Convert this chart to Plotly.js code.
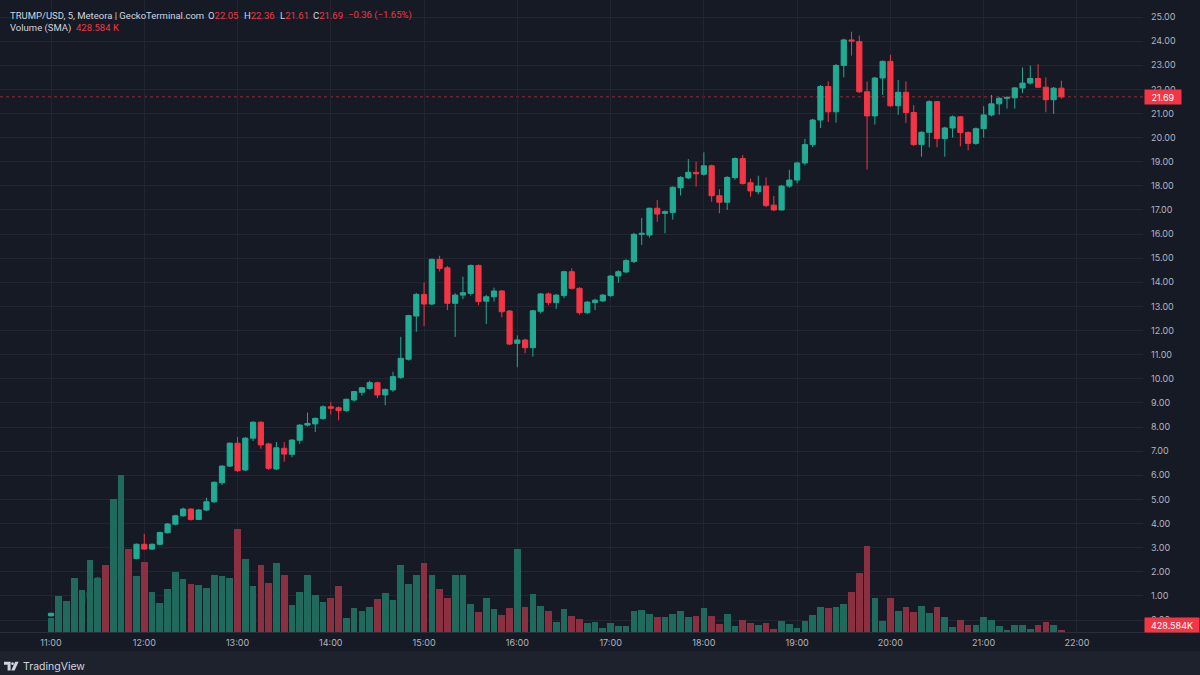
<!DOCTYPE html>
<html><head><meta charset="utf-8">
<script src="https://cdn.plot.ly/plotly-3.0.1.min.js"></script>
<style>html,body{margin:0;padding:0;background:#161a25;}#chart{width:1200px;height:675px;}</style>
</head><body><div id="chart"></div>
<script>
// ---- data (TRUMP/USD, 5-minute candles from 11:00) ----
const startHour = 11;
const stepMinutes = 5;
const openP = [0.17,0.28,0.40,0.54,0.69,0.91,1.17,1.70,0.92,1.66,
 2.69,2.55,3.14,2.94,3.14,3.62,3.97,4.32,4.60,4.17,
 4.56,4.90,5.69,6.38,7.33,6.22,7.54,8.20,7.30,6.26,
 7.12,6.87,7.45,8.08,8.13,8.35,8.84,8.80,8.68,9.12,
 9.44,9.60,9.84,9.33,9.54,10.06,10.81,12.60,13.50,13.10,
 14.95,14.60,13.13,13.47,13.54,14.70,13.22,13.40,13.64,12.81,
 11.47,11.61,11.29,12.80,13.52,13.16,13.45,14.44,13.75,12.74,
 13.16,13.23,13.45,14.26,14.43,14.86,15.99,15.96,17.07,16.86,
 16.90,17.92,18.33,18.56,18.48,18.83,17.59,17.32,18.34,19.13,
 18.13,17.76,17.99,17.20,17.00,17.99,18.24,18.95,19.71,20.73,
 22.12,21.07,22.99,24.05,23.98,21.90,20.90,22.47,23.16,21.32,
 21.88,21.04,19.71,20.22,21.49,19.96,20.40,20.86,20.21,19.76,
 20.37,20.94,21.40,21.63,21.65,22.06,22.26,22.45,22.09,21.57,
 22.05];
const highP = [0.30,0.43,0.57,0.71,0.94,1.19,1.76,1.74,1.72,2.74,
 2.74,3.17,3.57,3.17,3.66,4.02,4.36,4.66,4.63,4.60,
 5.07,5.74,6.42,7.36,7.59,7.58,8.24,8.24,7.35,7.38,
 7.38,7.50,8.12,8.60,8.40,8.90,9.03,8.86,9.18,9.50,
 9.66,9.92,9.88,9.60,10.29,11.74,12.65,13.56,13.99,14.99,
 15.10,14.68,13.55,14.23,14.74,14.74,13.48,13.78,13.68,12.85,
 11.80,11.66,12.86,13.56,13.58,13.52,14.48,14.58,13.80,13.22,
 13.32,13.52,14.30,14.50,14.96,16.05,16.67,17.10,17.41,16.98,
 17.98,18.40,19.11,19.00,19.39,18.88,17.86,18.40,19.18,19.28,
 18.30,18.42,18.35,17.58,18.04,18.66,19.00,19.95,20.78,22.18,
 22.33,23.05,24.10,24.39,24.23,22.33,22.52,23.20,23.43,22.39,
 22.33,21.35,20.26,21.55,21.52,20.45,20.92,20.90,20.26,20.42,
 21.30,21.77,21.68,21.72,22.10,22.91,22.99,23.04,22.50,22.10,
 22.36];
const lowP = [0.15,0.27,0.38,0.52,0.67,0.89,1.15,0.92,0.90,1.63,
 2.48,2.52,2.92,2.90,3.10,3.59,3.92,4.28,4.12,4.14,
 4.52,4.86,5.60,6.34,6.14,6.18,7.42,7.10,6.22,6.22,
 6.56,6.75,7.30,8.02,7.79,8.30,8.52,8.28,8.63,9.05,
 9.30,9.55,9.20,8.90,9.46,10.00,10.76,11.95,12.19,13.05,
 14.45,12.85,11.74,13.30,13.45,13.05,12.27,13.20,12.55,11.40,
 10.48,11.06,10.92,12.70,13.05,12.90,13.35,13.70,12.66,12.68,
 12.85,13.18,13.40,13.98,14.38,14.80,15.55,15.85,16.51,16.03,
 16.60,17.60,18.28,17.97,18.42,17.34,16.86,17.00,18.25,18.05,
 17.55,17.65,17.12,16.95,16.98,17.92,18.10,18.85,19.60,20.40,
 20.65,20.62,22.50,23.40,21.85,18.68,20.54,21.77,21.28,20.95,
 20.61,19.65,19.21,19.60,19.60,19.21,20.00,19.64,19.47,19.70,
 20.00,20.88,20.95,21.20,21.20,21.85,22.20,22.05,21.05,20.98,
 21.61];
const closeP = [0.28,0.41,0.55,0.69,0.92,1.17,1.73,0.94,1.69,2.70,
 2.53,3.14,2.94,3.14,3.63,3.98,4.32,4.60,4.17,4.56,
 4.90,5.71,6.38,7.33,6.19,7.54,8.20,7.26,6.29,7.14,
 6.88,7.46,8.08,8.15,8.36,8.84,8.78,8.68,9.15,9.47,
 9.63,9.84,9.33,9.56,10.09,10.85,12.62,13.50,13.10,14.95,
 14.58,13.13,13.47,13.57,14.70,13.20,13.40,13.64,12.78,11.44,
 11.61,11.29,12.82,13.52,13.16,13.47,14.44,13.75,12.74,13.18,
 13.26,13.47,14.26,14.44,14.90,15.99,16.03,17.07,16.83,16.93,
 17.94,18.35,18.56,18.50,18.83,17.59,17.32,18.35,19.13,18.10,
 17.79,17.99,17.18,17.00,17.99,18.24,18.95,19.71,20.73,22.12,
 21.07,22.99,24.05,24.00,21.90,20.90,22.47,23.16,21.32,21.88,
 21.04,19.71,20.22,21.49,19.96,20.40,20.86,20.21,19.76,20.37,
 20.94,21.40,21.63,21.66,22.06,22.26,22.45,22.09,21.57,22.05,
 21.69];
// volume in millions
const volumeM = [2.94,7.71,6.64,11.57,9.09,15.43,11.57,14.36,28.59,33.58,
 17.87,11.94,14.94,8.66,6.21,9.15,12.86,11.44,10.29,10.01,
 9.36,12.30,11.94,11.51,22.16,15.73,9.86,14.36,10.59,14.87,
 12.30,5.79,8.51,12.32,7.86,6.51,7.39,9.94,2.94,5.08,
 4.50,5.29,7.01,8.44,6.86,14.36,10.29,12.22,14.87,12.22,
 9.15,7.37,12.22,12.22,6.00,4.37,7.37,4.93,3.64,5.23,
 17.79,5.44,8.08,5.66,4.59,2.23,4.86,3.43,2.72,1.97,
 2.08,0.94,1.86,1.22,1.22,4.59,4.65,3.79,3.15,3.15,
 3.94,4.50,3.21,3.43,5.14,3.36,1.71,3.86,1.22,2.66,
 2.01,1.44,2.01,0.64,2.36,1.71,0.86,2.36,3.64,5.36,
 5.14,5.36,6.00,8.68,12.75,18.47,7.20,2.36,7.20,4.50,
 5.36,4.29,5.51,4.07,5.36,3.21,1.07,2.64,1.50,1.50,
 3.21,2.64,1.18,0.43,1.50,1.50,0.71,1.41,2.14,1.41,
 0.428584];
const legendTitle = "TRUMP/USD, 5, Meteora | GeckoTerminal.com";
const legendOHLC = [["O","22.05"],["H","22.36"],["L","21.61"],["C","21.69"]];
const legendChange = "\u22120.36 (\u22121.65%)";
const volumeLabel = "Volume (SMA)";
const volumeValueText = "428.584 K";
const priceTagText = "21.69";
const volumeTagText = "428.584K";

// ---- styling constants ----
const BG = '#161a25', GRID = '#222632', TXT = '#b2b5be', LEG = '#d1d4dc';
const UP = '#22ab94', DOWN = '#f23645';
const UPV = '#1f6a5d', DOWNV = '#8a3040';
const PW = 1143, PH = 632; // plot area in px
const FONT = 'Inter, Roboto, "DejaVu Sans", sans-serif';
const LFONT = 'Roboto, "Liberation Sans", sans-serif';

function pad(n){return (n<10?'0':'')+n;}
const times = openP.map((_, i) => {
  const mins = startHour*60 + i*stepMinutes;
  return '2025-01-18 ' + pad(Math.floor(mins/60)) + ':' + pad(mins%60) + ':00';
});
const volColors = openP.map((o,i) => closeP[i] >= o ? UPV : DOWNV);

const volTrace = {
  type:'bar', x: times, y: volumeM, yaxis:'y2',
  marker:{color: volColors, line:{width:0}},
  width: times.map(()=>stepMinutes*60000*0.86),
  hoverinfo:'skip', showlegend:false
};
const candleTrace = {
  type:'candlestick', x: times, open: openP, high: highP, low: lowP, close: closeP,
  increasing:{line:{color:UP, width:1}, fillcolor:UP},
  decreasing:{line:{color:DOWN, width:1}, fillcolor:DOWN},
  whiskerwidth:0, hoverinfo:'skip', showlegend:false
};

function px(x){return x/PW;}
function py(y){return (PH - y)/PH;}
function P(x,y){return px(x)+','+py(y);}

const annotations = [];
function ann(text, x, y, color, size, family){
  annotations.push({
    text: text, xref:'paper', yref:'paper', x: px(x), y: py(y),
    xanchor:'left', yanchor:'middle', showarrow:false,
    font:{family:family||LFONT, size:size||9.5, color:color}
  });
}
ann(legendTitle, 8, 15, LEG);
const ohlcX = [206, 241.5, 277.5, 310.5];
legendOHLC.forEach((p,k)=>{
  ann(p[0] + '<span style="color:'+DOWN+'">' + p[1] + '</span>', ohlcX[k], 15, LEG);
});
ann(legendChange, 345.5, 15, DOWN);
ann(volumeLabel, 8, 27.7, LEG);
ann(volumeValueText, 73.5, 27.7, DOWN);
// right price tags
const lastClose = closeP[closeP.length-1];
annotations.push({
  text: priceTagText, xref:'paper', yref:'y', x: px(1144), y: lastClose,
  xanchor:'left', yanchor:'middle', showarrow:false, width:36, height:14,
  bgcolor: DOWN, borderpad:0, font:{family:FONT, size:9, color:'#ffffff'}
});
annotations.push({
  text: volumeTagText, xref:'paper', yref:'paper', x: px(1144), y: py(625),
  xanchor:'left', yanchor:'middle', showarrow:false, width:54, height:14,
  bgcolor: DOWN, borderpad:0, font:{family:FONT, size:9, color:'#ffffff'}
});
// TradingView brand text
ann('TradingView', 21, 666.5, LEG, 10.5, FONT);

const shapes = [
  {type:'line', xref:'paper', yref:'y', x0:0, x1:1, y0:lastClose, y1:lastClose,
   line:{color:'rgba(242,54,69,0.6)', width:1, dash:'dot'}, layer:'below'},
  {type:'rect', xref:'paper', yref:'paper', x0:0, x1:px(1200), y0:py(675), y1:py(651),
   fillcolor:'#1e222d', line:{width:0}},
  {type:'line', xref:'paper', yref:'paper', x0:0, x1:px(1200), y0:py(632.5), y1:py(632.5),
   line:{color:'#2a2e39', width:1}},
  // TradingView logo (approximation)
  {type:'path', xref:'paper', yref:'paper', fillcolor:LEG, line:{width:0},
   path:'M'+P(4,661.8)+' L'+P(10.6,661.8)+' L'+P(10.6,670.6)+' L'+P(7.6,670.6)+' L'+P(7.6,664.8)+' L'+P(4,664.8)+' Z'},
  {type:'circle', xref:'paper', yref:'paper', fillcolor:LEG, line:{width:0},
   x0:px(11.2), x1:px(13.9), y0:py(665), y1:py(662.3)},
  {type:'path', xref:'paper', yref:'paper', fillcolor:LEG, line:{width:0},
   path:'M'+P(15.2,661.8)+' L'+P(18.6,661.8)+' L'+P(14.6,670.6)+' L'+P(11.2,670.6)+' Z'}
];

const layout = {
  width:1200, height:675,
  margin:{l:0, r:1200-PW, t:0, b:675-PH, pad:0},
  paper_bgcolor: BG, plot_bgcolor: BG,
  showlegend:false, boxgap:0.33, boxgroupgap:0, bargap:0,
  font:{family:FONT, color:TXT, size:9},
  xaxis:{
    type:'date', range:['2025-01-18 10:27:11','2025-01-18 22:42:30'],
    rangeslider:{visible:false},
    tick0:'2025-01-18 11:00:00', dtick:3600000, tickformat:'%H:%M',
    showgrid:true, gridcolor:GRID, gridwidth:1, zeroline:false, showline:false,
    ticks:'', tickfont:{family:FONT, size:9, color:TXT}, ticklabelstandoff:4,
    fixedrange:true
  },
  yaxis:{
    side:'right', range:[-0.4975, 25.705], dtick:1, tick0:0, tickformat:'.2f',
    showgrid:true, gridcolor:GRID, gridwidth:1, zeroline:false, showline:false,
    ticks:'', tickfont:{family:FONT, size:9, color:TXT}, ticklabelstandoff:7,
    fixedrange:true
  },
  yaxis2:{
    overlaying:'y', range:[0, PH*0.2143], visible:false, showgrid:false, zeroline:false,
    fixedrange:true
  },
  annotations: annotations,
  shapes: shapes
};

Plotly.newPlot('chart', [volTrace, candleTrace], layout, {staticPlot:true, displayModeBar:false});
</script>
</body></html>
